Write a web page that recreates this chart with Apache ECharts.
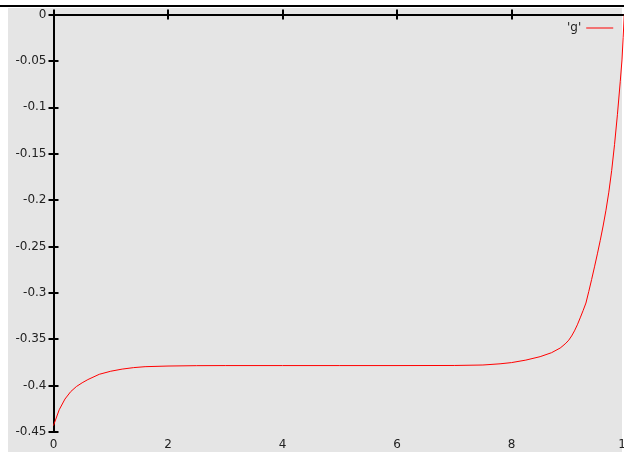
<!DOCTYPE html>
<html>
<head>
<meta charset="utf-8">
<script src="https://cdn.jsdelivr.net/npm/echarts@6/dist/echarts.min.js"></script>
<style>
html,body{margin:0;padding:0;background:#fff;}
#chart{width:624px;height:452px;}
</style>
</head>
<body>
<div id="chart"></div>
<script>
// Data
const seriesName = "'g'";
const xValues = [0, 0.1, 0.2, 0.3, 0.4, 0.5, 0.6, 0.8, 1.0, 1.2, 1.4, 1.6, 2.0, 2.5, 3.0, 4.0, 5.0, 6.0, 7.0, 7.5, 7.8, 8.0, 8.25, 8.5, 8.7, 8.85, 8.9, 8.95, 9.0, 9.05, 9.1, 9.15, 9.2, 9.25, 9.3, 9.35, 9.4, 9.45, 9.5, 9.55, 9.6, 9.65, 9.7, 9.75, 9.8, 9.85, 9.9, 9.93, 9.95, 9.97];
const yValues = [-0.443, -0.426, -0.4145, -0.4065, -0.401, -0.397, -0.3935, -0.3878, -0.3845, -0.3822, -0.3806, -0.3796, -0.3789, -0.3785, -0.3784, -0.3784, -0.3784, -0.3784, -0.3783, -0.3778, -0.3765, -0.3752, -0.3725, -0.3688, -0.3645, -0.3595, -0.3570, -0.3543, -0.3510, -0.3465, -0.3410, -0.3345, -0.3270, -0.3192, -0.3110, -0.2985, -0.2855, -0.2720, -0.2580, -0.2435, -0.2280, -0.2110, -0.1915, -0.1680, -0.1400, -0.1080, -0.0720, -0.0490, -0.0250, 0.0];
const xMin = 0, xMax = 10, xStep = 2;
const yMin = -0.45, yMax = 0, yStep = 0.05;

const points = xValues.map((x, i) => [x, yValues[i]]);

const font = 'DejaVu Sans';
const txt = '#222';
const axisLine = {show: true, lineStyle: {color: '#000', width: 2}};
const axisTick = {show: true, inside: true, length: 5, lineStyle: {color: '#000', width: 2}};
const fmtY = v => String(+v.toFixed(2));

const chart = echarts.init(document.getElementById('chart'), null, {renderer: 'canvas'});
chart.setOption({
  animation: false,
  backgroundColor: '#ffffff',
  graphic: [
    {type: 'rect', z: -100, silent: true, shape: {x: 8, y: 8, width: 614, height: 444}, style: {fill: '#e5e5e5'}},
    {type: 'rect', z: -100, silent: true, shape: {x: 0, y: 5, width: 624, height: 2}, style: {fill: '#000'}}
  ],
  grid: {left: 53.5, top: 14.5, width: 572.5, height: 417.5, containLabel: false, outerBoundsMode: 'none'},
  legend: {
    show: true,
    left: 562, top: 17,
    align: 'right',
    icon: 'rect',
    itemWidth: 27, itemHeight: 1,
    textStyle: {fontFamily: font, fontSize: 12, color: txt},
    data: [seriesName]
  },
  xAxis: [
    {type: 'value', position: 'bottom', min: xMin, max: xMax, interval: xStep,
     axisLine, axisTick, splitLine: {show: false},
     axisLabel: {margin: 7, fontFamily: font, fontSize: 12, color: txt}},
    {type: 'value', position: 'top', min: xMin, max: xMax, interval: xStep,
     axisLine, axisTick, splitLine: {show: false}, axisLabel: {show: false}}
  ],
  yAxis: [
    {type: 'value', position: 'left', min: yMin, max: yMax, interval: yStep,
     axisLine, axisTick, splitLine: {show: false},
     axisLabel: {margin: 7, fontFamily: font, fontSize: 12, color: txt, formatter: fmtY}},
    {type: 'value', position: 'right', min: yMin, max: yMax, interval: yStep,
     axisLine, axisTick, splitLine: {show: false}, axisLabel: {show: false}}
  ],
  series: [{
    name: seriesName,
    type: 'line',
    xAxisIndex: 0, yAxisIndex: 0,
    data: points,
    symbol: 'none',
    smooth: false,
    clip: true,
    lineStyle: {color: '#ff0000', width: 1},
    itemStyle: {color: '#ff0000'}
  }]
});
</script>
</body>
</html>
